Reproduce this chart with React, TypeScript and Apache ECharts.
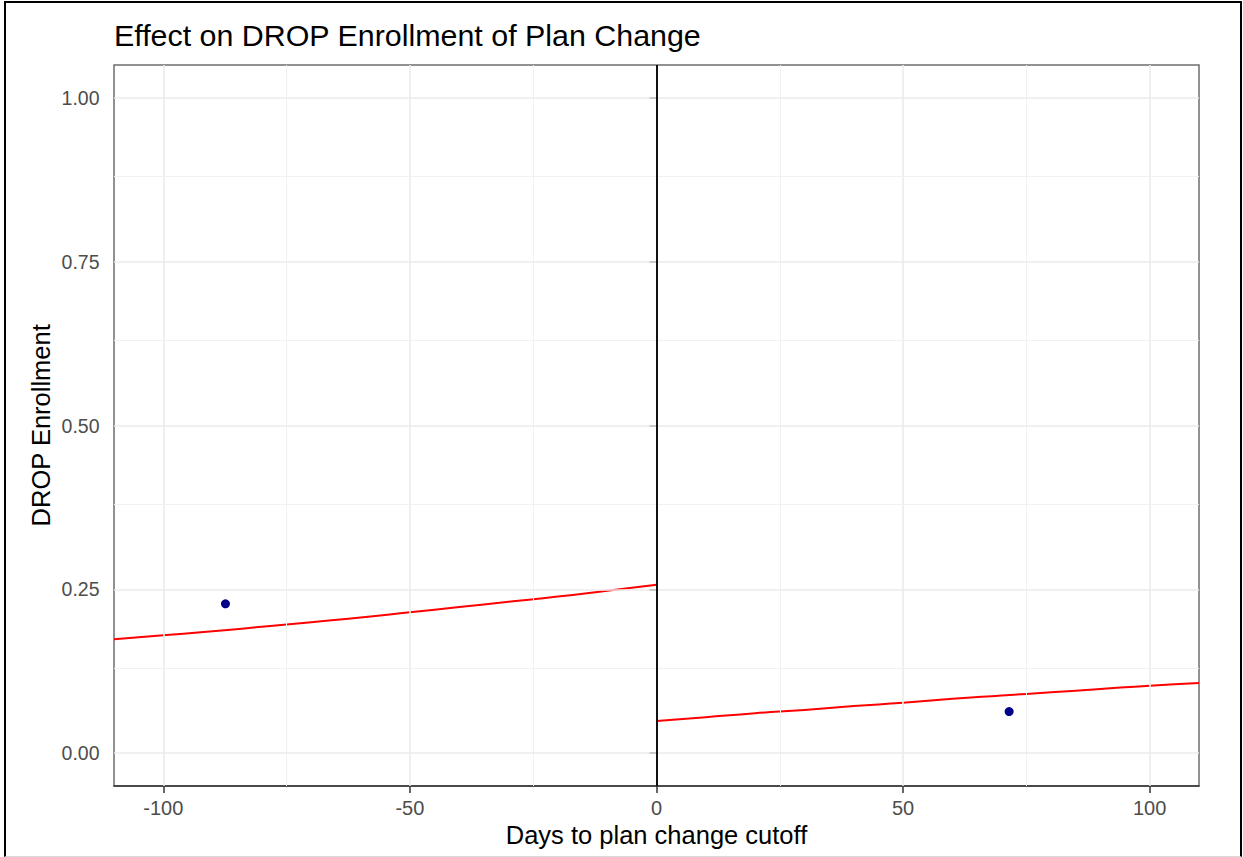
import React, { useEffect, useRef } from "react";
import * as echarts from "echarts";

// Fitted trend on each side of the cutoff (days, share enrolled)
const leftDays = [-110, -100, -90, -80, -70, -60, -50, -40, -30, -20, -10, 0];
const leftFit = [0.174, 0.18, 0.186, 0.193, 0.2, 0.207, 0.215, 0.223, 0.231, 0.239, 0.248, 0.257];
const rightDays = [0, 10, 20, 30, 40, 50, 60, 70, 80, 90, 100, 110];
const rightFit = [0.049, 0.055, 0.061, 0.066, 0.072, 0.077, 0.083, 0.088, 0.093, 0.098, 0.103, 0.107];

// Binned means
const binDays = [-87.4, 71.5];
const binMeans = [0.228, 0.0635];

// Axis breaks
const xBreaks = [-100, -50, 0, 50, 100];
const xMinorBreaks = [-75, -25, 25, 75];
const yBreaks = [0, 0.25, 0.5, 0.75, 1];
const yMinorBreaks = [0.125, 0.375, 0.625, 0.875];

const chartTitle = "Effect on DROP Enrollment of Plan Change";
const xTitle = "Days to plan change cutoff";
const yTitle = "DROP Enrollment";

const FONT = "'Liberation Sans', Arial, Helvetica, sans-serif";
const W = 1243;
const H = 857;

export default function App() {
  const ref = useRef<HTMLDivElement>(null);

  useEffect(() => {
    if (!ref.current) return;
    const chart = echarts.init(ref.current, null, { renderer: "svg" });

    const gridMajor = { color: "#ebebeb", width: 1.6, type: "solid" };
    const gridMinor = { color: "#f1f1f1", width: 1, type: "solid" };

    const gridLines = [
      ...xBreaks.map((v) => ({ xAxis: v, lineStyle: gridMajor })),
      ...xMinorBreaks.map((v) => ({ xAxis: v, lineStyle: gridMinor })),
      ...yBreaks.map((v) => ({ yAxis: v, lineStyle: gridMajor })),
      ...yMinorBreaks.map((v) => ({ yAxis: v, lineStyle: gridMinor })),
    ];

    chart.setOption({
      animation: false,
      backgroundColor: "#ffffff",
      textStyle: { fontFamily: FONT },
      grid: {
        left: 114,
        right: 44,
        top: 65,
        bottom: 71,
        show: true,
        borderColor: "#6e6e6e",
        borderWidth: 1.5,
        backgroundColor: "transparent",
      },
      title: {
        text: chartTitle,
        left: 114,
        top: 20,
        padding: 0,
        textStyle: { fontFamily: FONT, fontSize: 30.4, fontWeight: "normal", color: "#000" },
      },
      xAxis: {
        type: "value",
        min: -110,
        max: 110,
        axisLine: { show: true, onZero: false, lineStyle: { color: "#333", width: 1.5 } },
        axisTick: {
          show: true,
          length: 7,
          customValues: xBreaks,
          lineStyle: { color: "#333", width: 1.5 },
        },
        axisLabel: {
          customValues: xBreaks,
          margin: 12,
          fontSize: 20,
          color: "#4d4d4d",
          fontFamily: FONT,
        },
        splitLine: { show: false },
      },
      yAxis: {
        type: "value",
        min: -0.05,
        max: 1.05,
        axisLine: { show: false },
        axisTick: {
          show: true,
          length: 7,
          customValues: yBreaks,
          lineStyle: { color: "#333", width: 1.5 },
        },
        axisLabel: {
          customValues: yBreaks,
          margin: 14.5,
          fontSize: 19.5,
          color: "#4d4d4d",
          fontFamily: FONT,
          formatter: (v: number) => v.toFixed(2),
        },
        splitLine: { show: false },
      },
      graphic: [
        {
          type: "text",
          x: 656.5,
          y: 835,
          style: {
            text: xTitle,
            fontFamily: FONT,
            fontSize: 25.5,
            fill: "#000",
            align: "center",
            verticalAlign: "middle",
          },
        },
        {
          type: "text",
          x: 40.5,
          y: 425.3,
          rotation: Math.PI / 2,
          style: {
            text: yTitle,
            fontFamily: FONT,
            fontSize: 25.5,
            fill: "#000",
            align: "center",
            verticalAlign: "middle",
          },
        },
      ],
      series: [
        {
          name: "grid",
          type: "line",
          data: [],
          z: 1,
          silent: true,
          markLine: {
            silent: true,
            symbol: ["none", "none"],
            label: { show: false },
            data: gridLines,
          },
        },
        {
          name: "cutoff",
          type: "line",
          data: [],
          z: 4,
          silent: true,
          markLine: {
            silent: true,
            symbol: ["none", "none"],
            label: { show: false },
            lineStyle: { color: "#111", width: 2, type: "solid" },
            data: [{ xAxis: 0 }],
          },
        },
        {
          name: "fit-left",
          type: "line",
          data: leftDays.map((d, i) => [d, leftFit[i]]),
          smooth: true,
          showSymbol: false,
          z: 3,
          lineStyle: { color: "#ff0000", width: 2 },
        },
        {
          name: "fit-right",
          type: "line",
          data: rightDays.map((d, i) => [d, rightFit[i]]),
          smooth: true,
          showSymbol: false,
          z: 3,
          lineStyle: { color: "#ff0000", width: 2 },
        },
        {
          name: "bins",
          type: "scatter",
          data: binDays.map((d, i) => [d, binMeans[i]]),
          symbol: "circle",
          symbolSize: 9,
          z: 5,
          itemStyle: { color: "#00008b", opacity: 1 },
        },
      ],
    });

    return () => chart.dispose();
  }, []);

  return (
    <div
      style={{
        position: "fixed",
        left: 0,
        top: 0,
        width: W,
        height: H,
        background: "#fff",
      }}
    >
      <div ref={ref} style={{ position: "absolute", left: 0, top: 0, width: W, height: H }} />
      <div
        style={{
          position: "absolute",
          left: 4,
          top: 1,
          width: 1238,
          height: 856,
          boxSizing: "border-box",
          borderLeft: "2px solid #000",
          borderTop: "2px solid #000",
          borderRight: "2px solid #000",
          borderBottom: "1px solid #d9d9d9",
          pointerEvents: "none",
        }}
      />
    </div>
  );
}
